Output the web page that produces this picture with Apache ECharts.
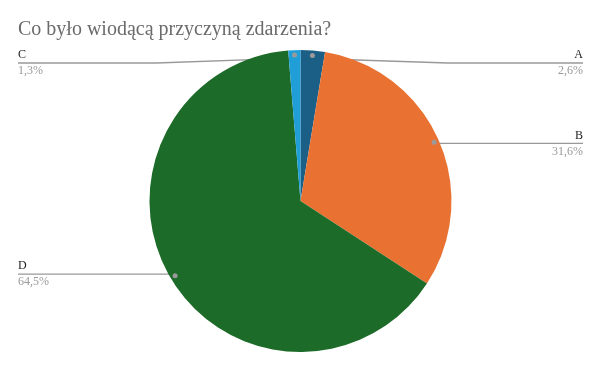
<!DOCTYPE html>
<html><head><meta charset="utf-8">
<script src="https://cdn.jsdelivr.net/npm/echarts@6/dist/echarts.min.js"></script>
<style>html,body{margin:0;padding:0;background:#fff}#c{width:601px;height:371px}</style>
</head><body><div id="c"></div>
<script>
const titleText = 'Co było wiodącą przyczyną zdarzenia?';
const categories = ['A', 'B', 'D', 'C'];
const values = [2.6, 31.6, 64.5, 1.3];
const colors = ['#1b5f86', '#e97233', '#1c6b29', '#1f9ed8'];

const W = 601, H = 371;
const TOP = 49;
const CY = 201, R = 151, DOT_R = 143;
const EDGE = 18;
const FONT = '"Liberation Serif", "Times New Roman", serif';

const chart = echarts.init(document.getElementById('c'), null, {renderer: 'canvas'});
const data = categories.map((c, i) => ({name: c, value: values[i], itemStyle: {color: colors[i]}}));
const cyPct = ((CY - TOP) / (H - TOP) * 100) + '%';

chart.setOption({
  animation: false,
  title: {
    text: titleText, left: 13, top: 15,
    textStyle: {fontFamily: FONT, fontSize: 20, fontWeight: 'normal', color: '#6a6a6a'}
  },
  series: [{
    type: 'pie',
    left: 0, right: 0, top: TOP, bottom: 0,
    center: ['50%', cyPct],
    radius: R,
    startAngle: 90,
    clockwise: true,
    percentPrecision: 1,
    data: data,
    itemStyle: {borderWidth: 0},
    label: {
      show: true, position: 'outside', alignTo: 'edge', edgeDistance: EDGE,
      distanceToLabelLine: 0,
      formatter: p => '{n|' + p.name + '}\n{p|' + p.percent.toFixed(1).replace('.', ',') + '%}',
      rich: {
        n: {fontFamily: FONT, fontSize: 12, color: '#222', lineHeight: 16},
        p: {fontFamily: FONT, fontSize: 12, color: '#999', lineHeight: 16}
      }
    },
    labelLine: {show: true, length: 10, length2: 10, lineStyle: {color: '#999', width: 1.3}},
    labelLayout: function (params) {
      const pts = params.labelLinePoints;
      if (!pts) return {};
      const cx = W / 2;
      const p0 = pts[0];
      const dx = p0[0] - cx, dy = p0[1] - CY;
      const len = Math.sqrt(dx * dx + dy * dy) || 1;
      const start = [cx + dx / len * DOT_R, CY + dy / len * DOT_R];
      const r = params.labelRect;
      const isLeft = r.x + r.width / 2 < cx;
      const endX = isLeft ? r.x : r.x + r.width;
      const y = Math.max(start[1], TOP + r.height / 2);
      const bend = [(start[0] + endX) / 2, y];
      return {y: y, labelLinePoints: [start, bend, [endX, y]]};
    }
  }, {
    type: 'pie',
    silent: true,
    left: 0, right: 0, top: TOP, bottom: 0,
    center: ['50%', cyPct],
    radius: [DOT_R * 2 - R, R],
    startAngle: 90,
    clockwise: true,
    data: categories.map((c, i) => ({name: c, value: values[i]})),
    itemStyle: {color: 'transparent', borderWidth: 0},
    label: {
      show: true, position: 'inside', formatter: '{d|}',
      rich: {d: {width: 5, height: 5, borderRadius: 2.5, backgroundColor: '#9a9a9a'}}
    },
    labelLine: {show: false},
    emphasis: {disabled: true}
  }]
});
</script>
</body></html>
